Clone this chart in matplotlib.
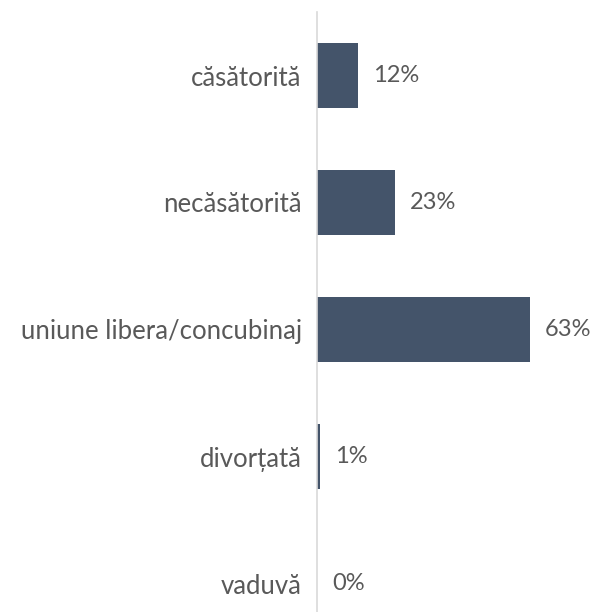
import matplotlib.pyplot as plt

categories = ['căsătorită', 'necăsătorită', 'uniune libera/concubinaj', 'divorțată', 'vaduvă']
values = [12, 23, 63, 1, 0]
labels = ['12%', '23%', '63%', '1%', '0%']

plt.rcParams['font.family'] = ['Lato', 'DejaVu Sans']

fig = plt.figure(figsize=(5.93, 6.12), dpi=100)
# plot area runs past the bottom edge, as in the original crop
ax = fig.add_axes([317/593, 1 - 647/612, 78*3.381/593, 635/612])

y = list(range(len(categories)))
ax.barh(y, values, height=0.51, color='#44546A')
ax.set_ylim(len(categories) - 0.5, -0.5)
ax.set_xlim(0, 78)

for yi, v, lab in zip(y, values, labels):
    ax.annotate(lab, (v, yi), xytext=(15, 0), textcoords='offset pixels',
                va='center', ha='left', fontsize=17, color='#595959')

ax.set_yticks(y)
ax.set_yticklabels(categories, fontsize=18.5, color='#595959')
ax.tick_params(axis='y', length=0, pad=11)
ax.set_xticks([])
for s in ['top', 'right', 'bottom']:
    ax.spines[s].set_visible(False)
ax.spines['left'].set_color('#D9D9D9')
ax.spines['left'].set_linewidth(1.2)

fig.savefig('out.png', dpi=100)
